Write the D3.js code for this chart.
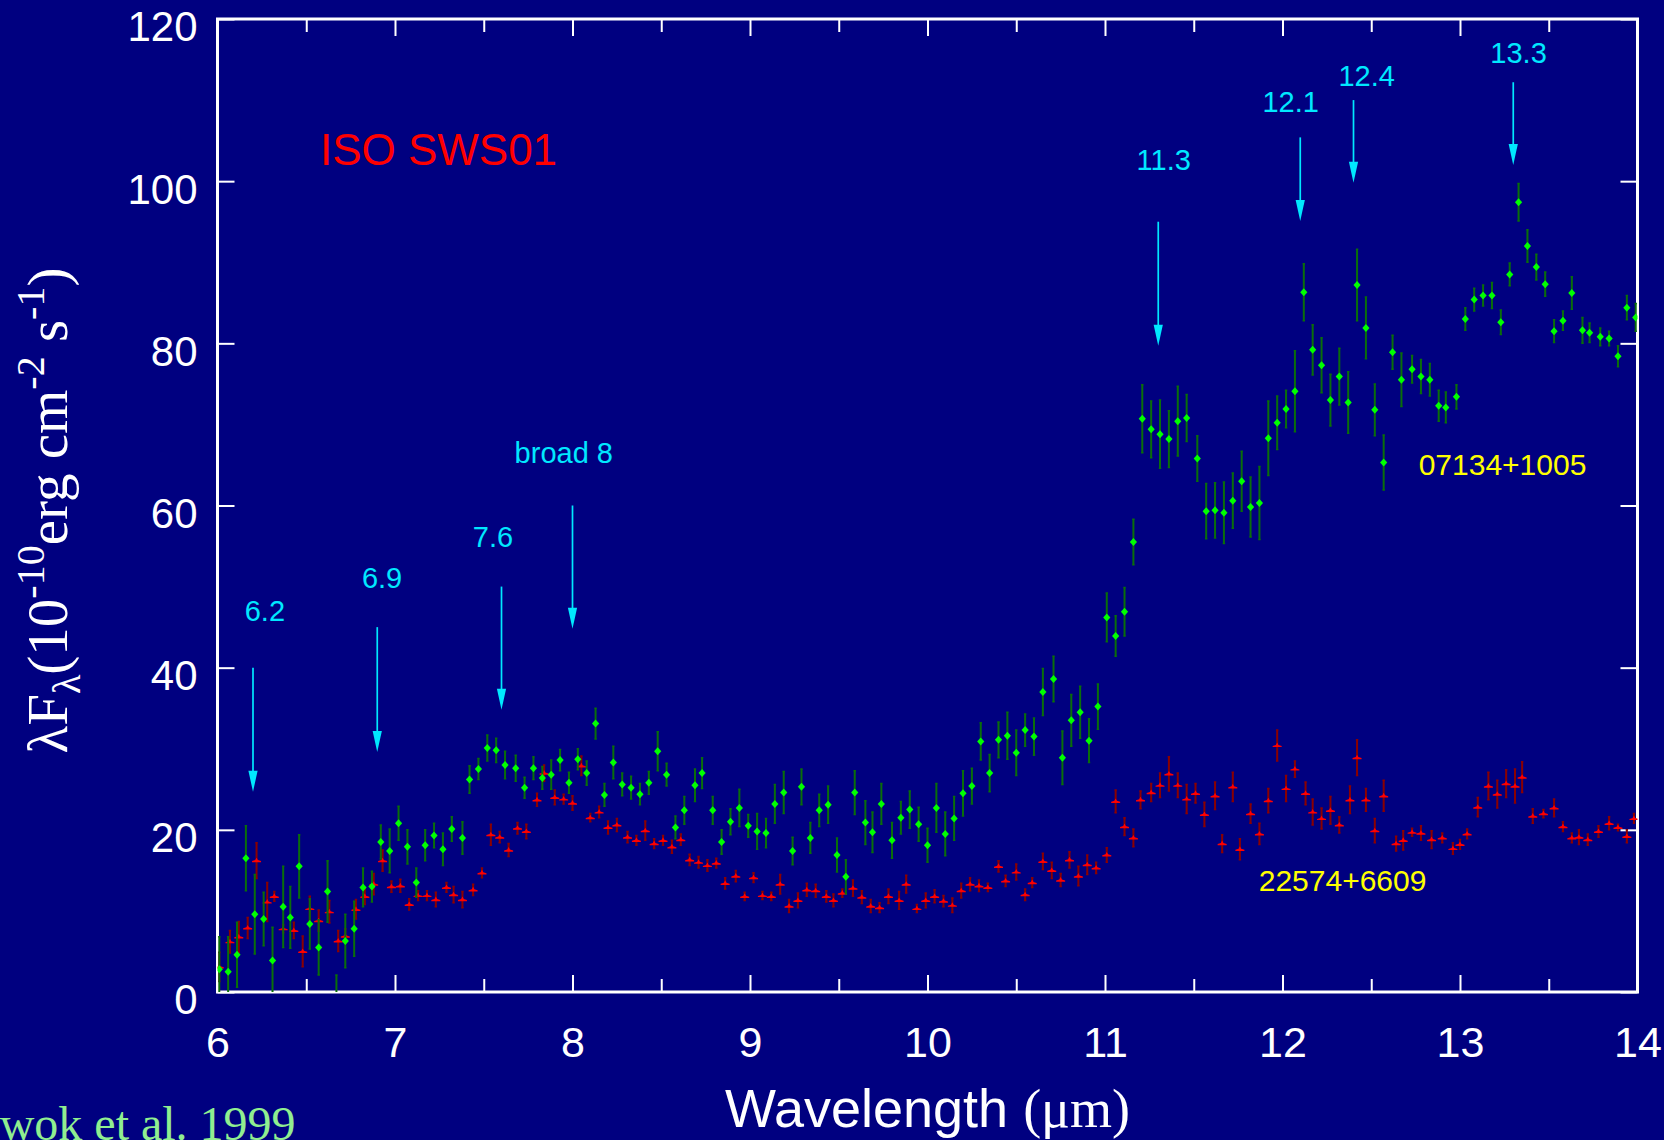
<!DOCTYPE html>
<html>
<head>
<meta charset="utf-8">
<script src="https://cdn.jsdelivr.net/npm/d3@7"></script>
<style>
  html, body { margin: 0; padding: 0; background: #000080; overflow: hidden; }
  svg { display: block; }
</style>
</head>
<body>
<script>
// ISO SWS01 spectra of two post-AGB objects: lambda*F_lambda (1e-10 erg cm^-2 s^-1) vs wavelength (micron)

// 07134+1005 (green diamonds)
const greenWave = [6.01,6.06,6.11,6.16,6.21,6.26,6.31,6.37,6.41,6.46,6.52,6.57,6.62,6.67,6.72,6.77,6.82,6.87,6.92,6.97,
  7.02,7.07,7.12,7.17,7.22,7.27,7.32,7.38,7.42,7.47,7.52,7.57,7.62,7.68,7.73,7.78,7.83,7.88,7.93,7.98,
  8.03,8.08,8.13,8.18,8.23,8.28,8.33,8.38,8.43,8.48,8.53,8.58,8.63,8.69,8.73,8.79,8.84,8.89,8.94,8.99,
  9.04,9.09,9.14,9.19,9.24,9.29,9.34,9.39,9.44,9.49,9.54,9.59,9.65,9.69,9.74,9.80,9.85,9.90,9.95,10.00,
  10.05,10.10,10.15,10.20,10.25,10.30,10.35,10.40,10.45,10.50,10.55,10.60,10.65,10.71,10.76,10.81,10.86,10.91,10.96,11.01,
  11.06,11.11,11.16,11.21,11.26,11.31,11.36,11.41,11.46,11.52,11.57,11.62,11.67,11.72,11.77,11.82,11.87,11.92,11.97,12.02,
  12.07,12.12,12.17,12.22,12.27,12.32,12.37,12.42,12.47,12.52,12.57,12.62,12.67,12.73,12.78,12.83,12.88,12.92,12.98,13.03,
  13.08,13.13,13.18,13.23,13.28,13.33,13.38,13.43,13.48,13.53,13.58,13.63,13.69,13.73,13.79,13.84,13.89,13.94,13.99];
const greenFlux = [2.8,2.5,4.6,16.5,9.6,9.0,3.9,10.5,9.2,15.5,8.4,5.5,12.4,-1.5,6.3,7.8,12.9,13.0,18.5,17.4,
  20.8,17.9,13.5,18.1,19.3,17.6,20.1,19.0,26.2,27.5,30.1,29.8,28.0,27.6,25.2,27.6,26.4,26.8,28.6,25.8,
  28.7,27.0,33.1,24.3,28.3,25.6,25.2,24.4,25.8,29.7,26.8,20.3,22.4,25.5,27.0,22.4,18.5,21.0,22.7,20.5,
  19.8,19.6,23.2,24.6,17.4,25.3,19.0,22.4,23.1,16.9,14.2,24.6,20.9,19.7,23.2,18.7,21.5,22.5,20.7,18.1,
  22.7,19.5,21.4,24.5,25.4,30.9,27.0,31.1,31.6,29.5,32.3,31.5,37.0,38.6,28.9,33.5,34.5,31.0,35.2,46.2,
  43.9,46.9,55.5,70.7,69.4,68.8,68.2,70.4,70.8,65.8,59.3,59.4,59.1,60.6,63.0,59.8,60.3,68.3,70.2,71.9,
  74.1,86.3,79.2,77.3,73.0,75.9,72.7,87.2,81.9,71.8,65.3,78.9,75.5,76.8,75.9,75.5,72.3,72.1,73.4,83.0,
  85.4,85.9,85.9,82.6,88.5,97.4,92.0,89.4,87.3,81.5,82.8,86.2,81.6,81.3,80.8,80.6,78.4,84.4,83.2];
const greenErr = [4.0,4.3,4.0,4.0,4.9,3.3,4.1,5.0,3.8,3.9,3.1,3.4,3.8,3.6,3.3,3.4,2.4,1.9,2.1,2.7,
  2.1,2.1,1.8,1.9,1.5,2.0,1.5,2.0,1.7,1.3,1.6,1.5,1.7,1.6,1.3,1.4,1.4,1.8,1.3,1.3,
  1.3,1.5,1.9,1.4,2.0,1.4,1.4,1.3,1.4,2.4,1.4,1.4,1.7,2.0,1.9,1.7,1.5,1.6,2.3,1.4,
  2.2,1.8,2.4,2.6,1.7,2.2,1.9,2.0,2.3,2.1,2.1,2.7,2.7,2.5,2.5,2.2,2.0,2.3,2.1,2.1,
  3.0,2.7,2.7,2.8,2.2,2.3,2.3,2.2,2.9,2.8,2.0,2.3,2.9,2.8,3.3,3.2,3.2,2.7,2.8,3.0,
  2.5,3.0,2.8,4.2,3.5,4.2,3.5,4.3,2.9,2.8,3.4,3.4,3.8,3.4,3.7,3.7,4.5,4.6,3.3,2.3,
  5.0,3.5,3.1,3.4,3.2,3.5,3.8,4.4,3.8,3.2,3.4,2.1,3.3,1.7,2.1,2.0,1.9,1.9,1.5,1.4,
  1.4,1.3,1.6,1.5,1.4,2.3,2.0,1.6,1.5,1.4,1.2,2.0,1.6,1.2,1.1,0.9,1.3,1.5,1.7];

// 22574+6609 (red markers)
const redWave = [6.01,6.07,6.12,6.17,6.22,6.28,6.32,6.37,6.43,6.48,6.52,6.57,6.63,6.68,6.72,6.78,6.83,6.88,6.93,6.98,
  7.03,7.08,7.13,7.18,7.23,7.29,7.33,7.38,7.44,7.49,7.54,7.59,7.64,7.69,7.74,7.80,7.84,7.90,7.95,8.00,
  8.05,8.10,8.15,8.20,8.25,8.31,8.36,8.41,8.46,8.51,8.56,8.61,8.66,8.71,8.76,8.81,8.86,8.92,8.97,9.02,
  9.07,9.12,9.17,9.22,9.27,9.32,9.37,9.43,9.47,9.52,9.58,9.63,9.68,9.73,9.78,9.84,9.88,9.94,9.99,10.04,
  10.09,10.14,10.19,10.24,10.29,10.34,10.40,10.44,10.50,10.55,10.59,10.65,10.70,10.75,10.80,10.85,10.90,10.95,11.01,11.06,
  11.11,11.16,11.20,11.26,11.31,11.36,11.41,11.46,11.51,11.56,11.62,11.66,11.72,11.76,11.82,11.87,11.92,11.97,12.02,12.07,
  12.13,12.17,12.22,12.27,12.32,12.38,12.42,12.47,12.52,12.57,12.64,12.68,12.73,12.78,12.84,12.90,12.96,13.00,13.04,13.10,
  13.16,13.21,13.26,13.31,13.35,13.41,13.47,13.53,13.58,13.63,13.67,13.72,13.78,13.84,13.89,13.94,13.98];
const redFlux = [3.1,6.2,6.8,7.9,16.2,11.1,11.8,7.8,7.6,5.0,10.3,8.8,9.9,6.3,6.9,10.2,11.8,13.3,16.2,13.0,
  13.1,10.8,11.9,11.9,11.4,12.9,12.0,11.4,12.6,14.7,19.4,19.1,17.5,20.2,19.8,23.7,27.0,24.0,23.8,23.3,
  27.9,21.5,22.2,20.3,20.6,19.1,18.7,19.9,18.3,18.7,17.9,18.8,16.3,16.0,15.6,15.9,13.4,14.3,11.8,14.1,
  11.9,11.8,13.3,10.6,11.3,12.6,12.5,11.8,11.3,12.2,12.8,11.7,10.6,10.4,11.8,11.3,13.3,10.3,11.3,11.8,
  11.2,10.7,12.5,13.3,13.1,12.9,15.5,13.7,14.8,12.0,13.5,16.1,15.0,13.8,16.3,14.3,15.7,15.3,16.9,23.5,
  20.4,19.0,23.7,24.6,25.5,26.9,25.5,23.8,24.5,21.9,24.2,18.3,25.3,17.6,22.0,19.5,23.6,30.4,25.1,27.5,
  24.5,22.2,21.4,22.4,20.6,23.7,28.9,23.7,19.9,24.2,18.3,18.7,19.7,19.6,18.8,19.0,17.7,18.2,19.5,22.8,
  25.4,24.4,25.7,25.4,26.5,21.7,22.0,22.7,20.4,19.0,19.1,18.8,19.8,20.8,20.3,19.2,21.4];
const redErr = [1.8,1.4,1.9,1.3,2.2,2.4,0.6,0.5,1.0,1.9,1.5,1.3,1.4,1.3,0.9,1.2,1.0,1.3,1.3,0.7,
  0.8,0.7,0.6,0.6,0.9,0.6,1.0,1.0,0.7,0.6,1.3,0.7,0.8,0.7,0.9,0.8,1.0,0.9,0.6,0.9,
  1.2,0.5,0.7,0.8,0.8,0.7,0.6,1.2,0.6,0.6,0.8,0.7,0.7,0.7,0.7,0.6,0.7,0.7,0.5,0.6,
  0.5,0.5,1.2,0.8,0.9,0.8,0.8,0.7,0.8,0.5,1.0,0.8,0.8,0.6,0.9,1.1,1.1,0.5,0.9,0.8,
  0.7,0.9,0.9,0.8,0.7,0.5,0.7,0.7,1.0,0.7,0.6,1.0,1.0,0.8,1.0,1.2,1.2,0.7,0.9,1.4,
  1.1,1.1,1.1,1.1,1.5,2.1,1.5,1.8,1.2,1.5,1.7,1.1,1.8,1.3,1.2,1.3,1.5,1.9,1.6,1.0,
  1.4,1.6,1.3,1.7,1.0,1.7,2.2,1.4,1.5,1.9,0.9,1.2,0.5,0.9,1.1,0.6,0.7,0.6,0.6,1.2,
  1.7,1.7,1.7,2.1,1.9,0.9,0.5,1.1,0.6,0.6,0.9,0.7,0.7,0.8,0.4,0.8,0.6];

// axes
const xTicks = [6, 7, 8, 9, 10, 11, 12, 13, 14];
const xMinorTicks = [6.5, 7.5, 8.5, 9.5, 10.5, 11.5, 12.5, 13.5];
const yTicks = [0, 20, 40, 60, 80, 100, 120];

// feature arrows: wavelength, arrow top and tip (flux units), label anchor
const featureLabels = ["6.2", "6.9", "7.6", "broad 8", "11.3", "12.1", "12.4", "13.3"];
const featureWave   = [6.2, 6.9, 7.6, 8.0, 11.3, 12.1, 12.4, 13.3];
const featureTop    = [40.0, 45.0, 50.0, 60.0, 95.0, 105.4, 110.0, 112.2];
const featureTip    = [24.7, 29.6, 34.8, 44.8, 79.7, 95.1, 99.8, 102.0];
const labelWave     = [6.267, 6.927, 7.552, 7.951, 11.331, 12.046, 12.474, 13.33];
const labelFlux     = [45.8, 49.8, 54.9, 65.2, 101.4, 108.5, 111.7, 114.6];

// object / instrument labels: text, wavelength, flux (start of text)
const tagTexts = ["ISO SWS01", "07134+1005", "22574+6609"];
const tagWave  = [6.577, 12.767, 11.866];
const tagFlux  = [102.0, 63.8, 12.5];

const W = 1664, H = 1140;
const plot = { left: 217.5, right: 1637.5, top: 19, bottom: 992 };

const x = d3.scaleLinear().domain([6, 14]).range([plot.left, plot.right]);
const y = d3.scaleLinear().domain([0, 120]).range([plot.bottom, plot.top]);

const sans = "'Liberation Sans', Arial, Helvetica, sans-serif";
const serif = "'Liberation Serif', 'Times New Roman', Times, serif";

const svg = d3.select("body").append("svg")
  .attr("width", W).attr("height", H)
  .style("background", "#000080");

svg.append("defs").append("clipPath").attr("id", "plotClip")
  .append("rect")
  .attr("x", plot.left).attr("y", plot.top)
  .attr("width", plot.right - plot.left).attr("height", plot.bottom - plot.top);

// ---- axes with inward ticks on all four sides ----
const majorLen = 17, minorLen = 13;
const bottomAxis = d3.axisBottom(x).tickValues(xTicks).tickSizeInner(-majorLen).tickSizeOuter(0).tickFormat(d3.format("d")).tickPadding(30);
const topAxis = d3.axisTop(x).tickValues(xTicks).tickSizeInner(-majorLen).tickSizeOuter(0).tickFormat("");
const bottomMinor = d3.axisBottom(x).tickValues(xMinorTicks).tickSizeInner(-minorLen).tickSizeOuter(0).tickFormat("");
const topMinor = d3.axisTop(x).tickValues(xMinorTicks).tickSizeInner(-minorLen).tickSizeOuter(0).tickFormat("");
const leftAxis = d3.axisLeft(y).tickValues(yTicks).tickSizeInner(-majorLen).tickSizeOuter(0).tickFormat(d3.format("d")).tickPadding(20);
const rightAxis = d3.axisRight(y).tickValues(yTicks).tickSizeInner(-majorLen).tickSizeOuter(0).tickFormat("");

function styleAxis(g) {
  g.select(".domain").remove();
  g.selectAll(".tick line").attr("stroke", "#ffffff").attr("stroke-width", 2);
  g.selectAll(".tick text").attr("fill", "#ffffff").style("font-family", sans);
}

const gx = svg.append("g").attr("transform", `translate(0,${plot.bottom})`).call(bottomAxis).call(styleAxis);
gx.selectAll(".tick text").style("font-size", "43px").attr("y", 0).attr("dy", "1.52em");
svg.append("g").attr("transform", `translate(0,${plot.bottom})`).call(bottomMinor).call(styleAxis);
svg.append("g").attr("transform", `translate(0,${plot.top})`).call(topAxis).call(styleAxis);
svg.append("g").attr("transform", `translate(0,${plot.top})`).call(topMinor).call(styleAxis);
const gy = svg.append("g").attr("transform", `translate(${plot.left},0)`).call(leftAxis).call(styleAxis);
gy.selectAll(".tick text").style("font-size", "42px").attr("x", -20).attr("dy", "0.52em");
svg.append("g").attr("transform", `translate(${plot.right},0)`).call(rightAxis).call(styleAxis);

// frame
svg.append("rect")
  .attr("x", plot.left).attr("y", plot.top)
  .attr("width", plot.right - plot.left).attr("height", plot.bottom - plot.top)
  .attr("fill", "none").attr("stroke", "#ffffff").attr("stroke-width", 3);

// ---- data ----
const dataG = svg.append("g").attr("clip-path", "url(#plotClip)");

function drawSeries(wave, flux, err, barColor, drawMarker) {
  const pts = wave.map((w, i) => ({ w, f: flux[i], e: err[i] }));
  const g = dataG.append("g");
  g.selectAll("line.bar").data(pts).join("line")
    .attr("class", "bar")
    .attr("x1", d => x(d.w)).attr("x2", d => x(d.w))
    .attr("y1", d => y(d.f - d.e)).attr("y2", d => y(d.f + d.e))
    .attr("stroke", barColor).attr("stroke-width", 2);
  g.selectAll("path.cap").data(pts).join("path")
    .attr("class", "cap")
    .attr("d", d => `M${x(d.w) - 1.2},${y(d.f + d.e)}h2.4M${x(d.w) - 1.2},${y(d.f - d.e)}h2.4`)
    .attr("stroke", barColor).attr("stroke-width", 1.5);
  drawMarker(g, pts);
}

// red: small peaked bar markers
drawSeries(redWave, redFlux, redErr, "#8b0000", (g, pts) => {
  g.selectAll("path.mk").data(pts).join("path")
    .attr("class", "mk")
    .attr("transform", d => `translate(${x(d.w)},${y(d.f)})`)
    .attr("d", "M-4.5,1.6 L4.5,1.6 L4.5,0.4 L1.3,-0.6 L0,-3 L-1.3,-0.6 L-4.5,0.4 Z")
    .attr("fill", "#ff0000");
});

// green: diamonds
drawSeries(greenWave, greenFlux, greenErr, "#0a6e0a", (g, pts) => {
  g.selectAll("path.mk").data(pts).join("path")
    .attr("class", "mk")
    .attr("transform", d => `translate(${x(d.w)},${y(d.f)})`)
    .attr("d", "M0,-4 L3.6,0 L0,4 L-3.6,0 Z")
    .attr("fill", "#00ff00");
});

// ---- feature arrows ----
const cyan = "#00e8ff";
const arrows = svg.append("g");
featureWave.forEach((w, i) => {
  const ax = x(w), y0 = y(featureTop[i]), y1 = y(featureTip[i]);
  arrows.append("line")
    .attr("x1", ax).attr("x2", ax).attr("y1", y0).attr("y2", y1 - 14)
    .attr("stroke", cyan).attr("stroke-width", 1.7);
  arrows.append("path")
    .attr("d", `M${ax - 4.6},${y1 - 21} L${ax + 4.6},${y1 - 21} L${ax},${y1} Z`)
    .attr("fill", cyan);
  arrows.append("text")
    .attr("x", x(labelWave[i])).attr("y", y(labelFlux[i]))
    .attr("text-anchor", "middle")
    .style("font-family", sans).style("font-size", "29px")
    .attr("fill", cyan)
    .text(featureLabels[i]);
});

// ---- tags ----
const tagColors = ["#ff0000", "#ffff00", "#ffff00"];
const tagSizes = ["44px", "30px", "30px"];
tagTexts.forEach((t, i) => {
  svg.append("text")
    .attr("x", x(tagWave[i])).attr("y", y(tagFlux[i]))
    .style("font-family", sans).style("font-size", tagSizes[i])
    .attr("fill", tagColors[i])
    .text(t);
});

// ---- axis titles ----
const xTitle = svg.append("text")
  .attr("x", (plot.left + plot.right) / 2).attr("y", 1127)
  .attr("text-anchor", "middle")
  .attr("fill", "#ffffff")
  .style("font-family", sans).style("font-size", "54px");
xTitle.append("tspan").text("Wavelength ");
xTitle.append("tspan").style("font-family", serif).text("(\u03bcm)");

const yTitle = svg.append("text")
  .attr("transform", `translate(67,${(plot.top + plot.bottom) / 2 + 5}) rotate(-90)`)
  .attr("text-anchor", "middle")
  .attr("fill", "#ffffff")
  .style("font-family", serif).style("font-size", "57px");
yTitle.append("tspan").text("\u03bbF");
yTitle.append("tspan").attr("dy", 13).style("font-size", "40px").text("\u03bb");
yTitle.append("tspan").attr("dy", -13).text("(10");
yTitle.append("tspan").attr("dy", -23).style("font-size", "40px").text("-10");
yTitle.append("tspan").attr("dy", 23).text("erg cm");
yTitle.append("tspan").attr("dy", -23).style("font-size", "40px").text("-2");
yTitle.append("tspan").attr("dy", 23).text(" s");
yTitle.append("tspan").attr("dy", -23).style("font-size", "40px").text("-1");
yTitle.append("tspan").attr("dy", 23).text(")");

// reference credit
svg.append("text")
  .attr("x", -35).attr("y", 1140)
  .attr("fill", "#90ee90")
  .style("font-family", serif).style("font-size", "48px")
  .text("Kwok et al. 1999");
</script>
</body>
</html>
